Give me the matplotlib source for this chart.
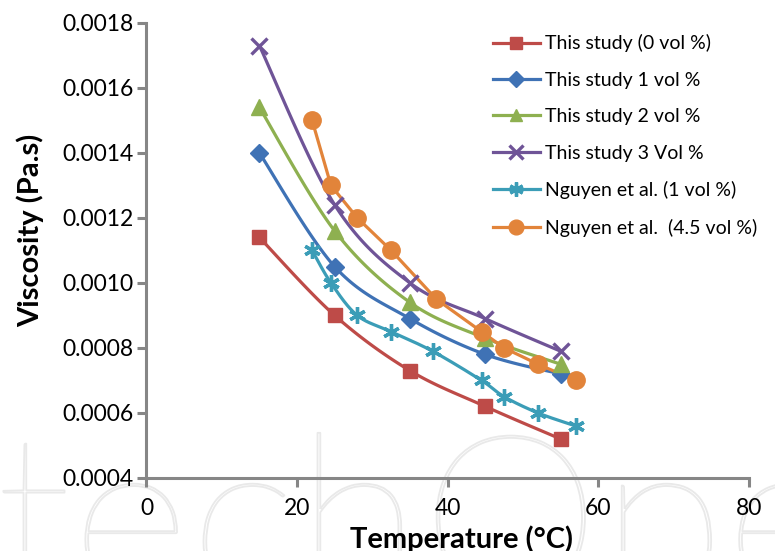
import numpy as np
import matplotlib.pyplot as plt
import matplotlib.patheffects as pe

# Data
temp_study = [15, 25, 35, 45, 55]
visc_0 = [0.00114, 0.00090, 0.00073, 0.00062, 0.00052]
visc_1 = [0.00140, 0.00105, 0.00089, 0.00078, 0.00072]
visc_2 = [0.00154, 0.00116, 0.00094, 0.00083, 0.00075]
visc_3 = [0.00173, 0.00124, 0.00100, 0.00089, 0.00079]

temp_ng1 = [22, 24.5, 28, 32.5, 38, 44.5, 47.5, 52, 57]
visc_ng1 = [0.00110, 0.00100, 0.00090, 0.00085, 0.00079, 0.00070, 0.00065, 0.00060, 0.00056]

temp_ng45 = [22, 24.5, 28, 32.5, 38.5, 44.5, 47.5, 52, 57]
visc_ng45 = [0.00150, 0.00130, 0.00120, 0.00110, 0.00095, 0.00085, 0.00080, 0.00075, 0.00070]

labels = ['This study (0 vol %)', 'This study 1 vol %', 'This study 2 vol %',
          'This study 3 Vol %', 'Nguyen et al. (1 vol %)', 'Nguyen et al.  (4.5 vol %)']


def smooth(x, y, n=30):
    # Excel-like smoothed line: cubic bezier through the points
    x = np.asarray(x, float)
    y = np.asarray(y, float)
    xs, ys = [], []
    for i in range(len(x) - 1):
        x0, y0 = (x[i - 1], y[i - 1]) if i > 0 else (x[i], y[i])
        x3, y3 = (x[i + 2], y[i + 2]) if i + 2 < len(x) else (x[i + 1], y[i + 1])
        p1 = (x[i] + (x[i + 1] - x0) / 6, y[i] + (y[i + 1] - y0) / 6)
        p2 = (x[i + 1] - (x3 - x[i]) / 6, y[i + 1] - (y3 - y[i]) / 6)
        t = np.linspace(0, 1, n)
        bx = (1 - t)**3 * x[i] + 3 * (1 - t)**2 * t * p1[0] + 3 * (1 - t) * t**2 * p2[0] + t**3 * x[i + 1]
        by = (1 - t)**3 * y[i] + 3 * (1 - t)**2 * t * p1[1] + 3 * (1 - t) * t**2 * p2[1] + t**3 * y[i + 1]
        xs.extend(bx)
        ys.extend(by)
    return np.array(xs), np.array(ys)


plt.rcParams['font.family'] = ['Lato', 'DejaVu Sans']

fig = plt.figure(figsize=(7.75, 5.51), dpi=100)

# faint outlined watermark behind everything
fig.text(-0.005, -0.085, 'techOpen', fontsize=165, fontweight='light', color=(1, 1, 1, 0),
         zorder=-5, path_effects=[pe.withStroke(linewidth=1.3, foreground='#e9e9e9')])

ax = fig.add_axes([0.189, 0.1325, 0.7774, 0.8258])
ax.patch.set_alpha(0)

series = [
    (temp_study, visc_0, '#BE4B48', 's', 9.5, True),
    (temp_study, visc_1, '#3F72B5', 'D', 9, True),
    (temp_study, visc_2, '#8EB050', '^', 11, True),
    (temp_study, visc_3, '#6F5497', 'x', 11.5, True),
    (temp_ng1, visc_ng1, '#3B9DB7', (6, 2, 0), 12, True),
    (temp_ng45, visc_ng45, '#E2843A', 'o', 12.5, False),
]

for (x, y, c, m, ms, sm), lab in zip(series, labels):
    if sm:
        sx, sy = smooth(x, y)
    else:
        sx, sy = x, y
    ax.plot(sx, sy, color=c, lw=2.3, zorder=2)
    mew = 2.4 if m == 'x' or isinstance(m, tuple) else 1
    ax.plot(x, y, linestyle='none', marker=m, ms=ms, color=c, mec=c, mew=mew, zorder=3)
    ax.plot([], [], color=c, lw=2.3, marker=m, ms=ms * 0.85, mec=c, mew=mew, label=lab)

ax.set_xlim(0, 80)
ax.set_ylim(0.0004, 0.0018)
ax.set_xticks([0, 20, 40, 60, 80])
yt = np.arange(0.0004, 0.00181, 0.0002)
ax.set_yticks(yt)
ax.set_yticklabels(['%.4f' % v for v in yt])

for s in ['top', 'right']:
    ax.spines[s].set_visible(False)
for s in ['left', 'bottom']:
    ax.spines[s].set_color('#868686')
    ax.spines[s].set_linewidth(2.2)
ax.tick_params(axis='both', colors='#868686', width=2.2, length=6.5, labelsize=16.5,
               labelcolor='black', direction='out')
ax.tick_params(axis='y', pad=3)
ax.tick_params(axis='x', pad=8)

fig.text(462 / 775, 1 - 548 / 551, 'Temperature (°C)', fontsize=21, fontweight='bold',
         ha='center', va='baseline')
fig.text(30 / 775, 1 - 230 / 551, 'Viscosity (Pa.s)', fontsize=21, fontweight='bold',
         rotation=90, ha='center', va='center')

ax.legend(loc='upper left', bbox_to_anchor=(0.575, 0.975), frameon=False, fontsize=14,
          handlelength=2.4, labelspacing=1.0, handletextpad=0.3, borderaxespad=0,
          borderpad=0)

fig.savefig('out.png', dpi=100)
